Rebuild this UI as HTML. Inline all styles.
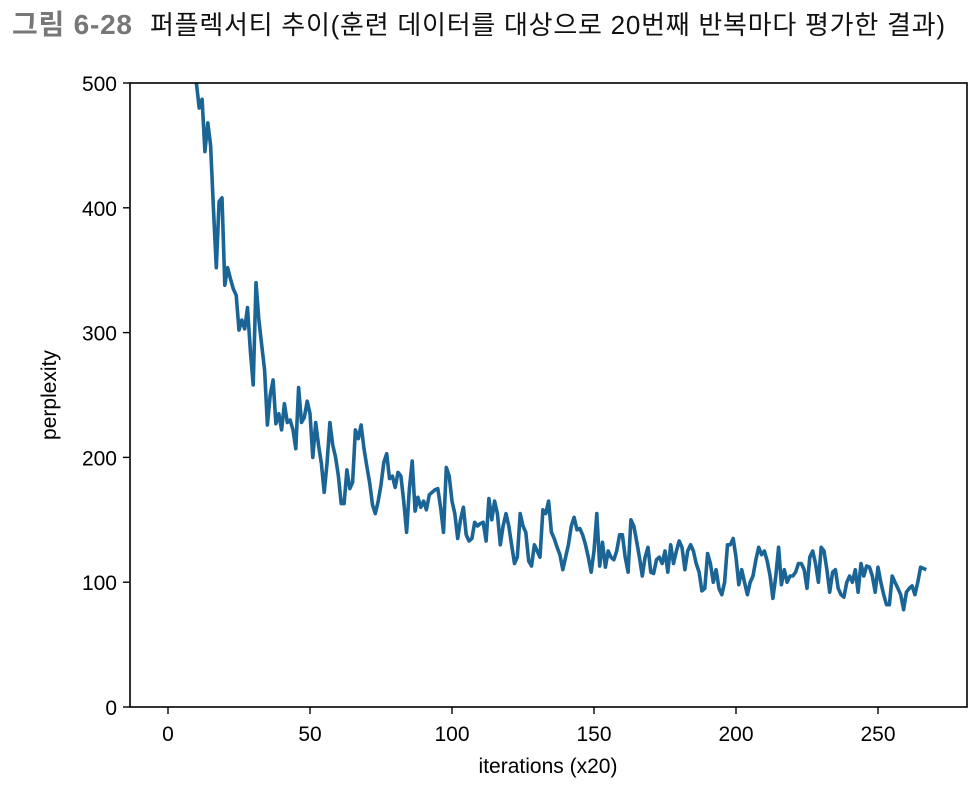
<!DOCTYPE html>
<html><head><meta charset="utf-8"><style>
body{margin:0;background:#fff;width:980px;height:788px;overflow:hidden;font-family:"Liberation Sans","Noto Sans CJK KR",sans-serif}
</style></head><body>
<svg width="980" height="788" font-family="'Liberation Sans','DejaVu Sans','Noto Sans CJK KR',sans-serif">
<text x="12" y="34" font-size="28" font-weight="bold" fill="#777" font-family="'Liberation Sans','Noto Sans CJK KR',sans-serif" textLength="120">그림 6-28</text>
<text x="150" y="34" font-size="26" fill="#111" font-family="'Liberation Sans','Noto Sans CJK KR',sans-serif" textLength="795">퍼플렉서티 추이(훈련 데이터를 대상으로 20번째 반복마다 평가한 결과)</text>
<defs><clipPath id="cp"><rect x="130" y="83" width="837" height="624"/></clipPath></defs>
<g id="axes"></g>
<rect x="130" y="83" width="837" height="624" fill="none" stroke="#000" stroke-width="1.6"/>
<text x="56" y="395" font-size="21" transform="rotate(-90 56 395)" text-anchor="middle">perplexity</text>
<text x="548" y="773" font-size="21" text-anchor="middle">iterations (x20)</text>
</svg>
<script>
const xTicks=[0,50,100,150,200,250];
const yTicks=[0,100,200,300,400,500];
const startIter=10;
const perplexity=[500,480,487,445,468,450,400,352,405,408,338,352,343,335,330,302,310,303,320,285,258,340,310,290,270,226,250,262,227,235,222,243,228,230,222,207,256,228,232,245,235,200,228,210,195,172,195,228,210,200,185,163,163,190,175,180,222,215,226,207,193,180,162,155,165,178,196,203,183,185,176,188,185,165,140,175,197,157,168,160,165,158,170,172,174,175,160,140,192,185,165,155,135,150,160,138,133,135,148,145,147,148,133,167,150,165,155,130,145,155,145,130,115,120,155,145,140,117,113,130,125,120,158,155,165,140,135,128,122,110,120,130,145,152,142,143,138,130,120,108,125,155,113,132,112,125,120,118,125,138,138,120,108,150,145,133,120,105,120,128,108,107,118,120,115,125,108,130,115,125,133,128,110,125,130,125,115,108,93,95,123,115,100,110,95,90,100,130,130,135,120,98,110,100,90,100,105,118,128,122,125,117,105,87,105,128,98,110,100,105,105,108,115,115,110,95,120,125,115,100,128,125,110,92,108,110,95,90,88,100,105,100,110,92,115,105,113,112,105,92,112,100,90,82,82,105,100,95,90,78,92,95,97,90,100,112,111,110];
const xs=v=>168+v*2.84, ys=v=>707-v*1.248;
const NS="http://www.w3.org/2000/svg";
const g=document.getElementById('axes');
function mk(t,a){const e=document.createElementNS(NS,t);for(const k in a)e.setAttribute(k,a[k]);g.appendChild(e);return e;}
xTicks.forEach(t=>{
 const l=mk('line',{x1:xs(t),x2:xs(t),y1:707,y2:714,stroke:'#000','stroke-width':1.4});
 
 
 const tx=mk('text',{x:xs(t),y:741,'font-size':21,'text-anchor':'middle'});tx.textContent=t;
 
 
});
yTicks.forEach(t=>{
 const l=mk('line',{x1:123,x2:130,y1:ys(t),y2:ys(t),stroke:'#000','stroke-width':1.4});
 
 
 const tx=mk('text',{x:117,y:ys(t)+8,'font-size':21,'text-anchor':'end'});tx.textContent=t;
 
 
});
const pts=perplexity.map((v,i)=>xs(startIter+i).toFixed(1)+','+ys(v).toFixed(1)).join(' ');
const pl=mk('polyline',{points:pts,fill:'none',stroke:'#1a6496','stroke-width':3.6,'stroke-linejoin':'round','clip-path':'url(#cp)'});


</script>
</body></html>
